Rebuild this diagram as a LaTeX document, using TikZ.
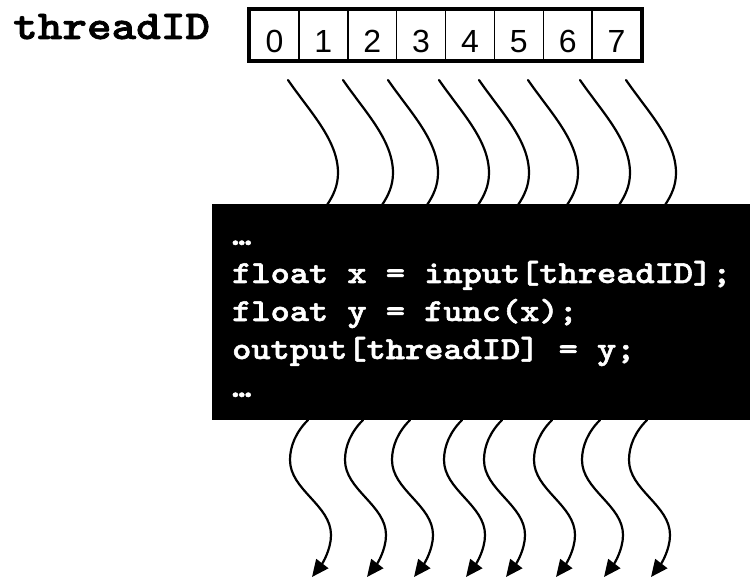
\documentclass[tikz,border=0pt]{standalone}
\usepackage{fontspec}
\setmainfont{Liberation Sans}
\newfontfamily\courb{lmmonolt10-bold.otf}[FakeBold=1.6]
\usetikzlibrary{arrows.meta}
\newcommand{\wideTT}[1]{\scalebox{1.143}[1]{#1}}

\tikzset{
  cell/.style={draw, line width=1.5pt, minimum width=48.875pt, minimum height=50pt,
    inner sep=0pt, text height=36pt, text depth=0pt, font=\fontsize{32}{32}\selectfont},
  outerbox/.style={draw, line width=4pt},
  thread/.style={line width=2.2pt, line cap=round},
  threadarrow/.style={thread, -{Triangle[length=17pt,width=15pt]}},
  codebox/.style={fill=black, inner sep=0pt, minimum width=540pt, minimum height=216pt, anchor=north west},
  codeline/.style={anchor=base west, inner sep=0pt, text=white, font=\courb\fontsize{32}{38}\selectfont},
  idlabel/.style={anchor=base west, inner sep=0pt, font=\courb\fontsize{41}{41}\selectfont},
}

\begin{document}
\begin{tikzpicture}[x=1pt,y=-1pt]
\useasboundingbox (0,0) rectangle (750,580);

% label
\node[idlabel] (lab) at (13,39) {\wideTT{threadID}};

% array cells
\foreach \d in {0,...,7}{
  \node[cell] (c\d) at ({250+48.875*(\d+0.5)},35) {\d};
}
\draw[outerbox] (c0.north west) rectangle (c7.south east);

% incoming threads
\foreach \s [count=\i] in {288,343,388,439,479,528,580,626}{
  \coordinate (tin\i) at (\s,80);
  \coordinate (tout\i) at (\s+39,205);
  \draw[thread] (tin\i) .. controls (\s+22,112) and (\s+50,140) .. (\s+50,173)
     .. controls (\s+50,186) and (\s+45,196) .. (tout\i);
}

% code block
\node[codebox] (code) at (212,204) {};
\node[codeline] (l1) at (232,245) {\wideTT{…}};
\node[codeline] (l2) at (232,283) {\wideTT{float x = input[threadID];}};
\node[codeline] (l3) at (232,321) {\wideTT{float y = func(x);}};
\node[codeline] (l4) at (232,359) {\wideTT{output[threadID] = y;}};
\node[codeline] (l5) at (232,397) {\wideTT{…}};

% outgoing threads
\foreach \s [count=\i] in {308,363,410,462,502,552,600,647}{
  \coordinate (bin\i) at (\s,420);
  \coordinate (bout\i) at (\s+4,577);
  \draw[threadarrow] (bin\i) .. controls (\s-12,432) and (\s-18,446) .. (\s-18,460)
     .. controls (\s-18,490) and (\s+23,505) .. (\s+23,535)
     .. controls (\s+23,550) and (\s+14,564) .. (bout\i);
}
\end{tikzpicture}
\end{document}
